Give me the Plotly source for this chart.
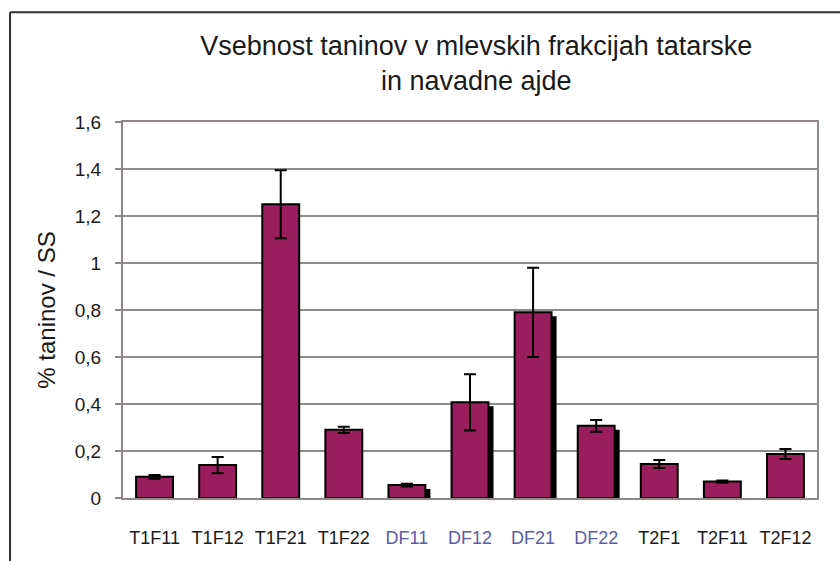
import plotly.graph_objects as go

# Tannin content per milling fraction (% of dry matter) with standard deviations
categories = ["T1F11", "T1F12", "T1F21", "T1F22", "DF11", "DF12",
              "DF21", "DF22", "T2F1", "T2F11", "T2F12"]
tannin = [0.09, 0.14, 1.25, 0.29, 0.055, 0.407, 0.79, 0.307, 0.145, 0.07, 0.187]
tannin_sd = [0.008, 0.035, 0.145, 0.013, 0.006, 0.12, 0.19, 0.025, 0.017, 0.005, 0.021]

# common buckwheat fractions (DF) get a drop shadow and blue labels
common_buckwheat = ["DF11", "DF12", "DF21", "DF22"]
shadow_vals = [v for c, v in zip(categories, tannin) if c in common_buckwheat]

y_ticks = [0, 0.2, 0.4, 0.6, 0.8, 1.0, 1.2, 1.4, 1.6]
y_ticktext = ["0", "0,2", "0,4", "0,6", "0,8", "1", "1,2", "1,4", "1,6"]

BAR = "#9a1d5d"
DF_LABEL = "#5a5ca6"
FONT = "Liberation Sans, Arial, sans-serif"

BAR_W = 0.585
fig = go.Figure()

# shadow behind the DF bars
fig.add_trace(go.Bar(
    x=common_buckwheat, y=shadow_vals, base=-0.017,
    width=BAR_W, offset=-BAR_W / 2 + 0.08,
    marker=dict(color="black", line=dict(width=0)),
    hoverinfo="skip", showlegend=False,
))

fig.add_trace(go.Bar(
    x=categories, y=tannin,
    width=BAR_W, offset=-BAR_W / 2,
    marker=dict(color=BAR, line=dict(color="black", width=2)),
    error_y=dict(type="data", array=tannin_sd, visible=True,
                 color="black", thickness=2, width=6),
    showlegend=False,
))

ticktext = [f"<span style='color:{DF_LABEL}'>{c}</span>" if c in common_buckwheat else c
            for c in categories]

# outer frame: left and top edges (right/bottom run past the page)
frame = dict(color="#333333", width=2)
FX, FY = -0.1628, 1.2918

fig.update_layout(
    width=840, height=561,
    margin=dict(l=123, r=23, t=122, b=63),
    paper_bgcolor="white", plot_bgcolor="white",
    barmode="overlay",
    font=dict(family=FONT, color="#1a1a1a"),
    title=dict(
        text="Vsebnost taninov v mlevskih frakcijah tatarske<br>in navadne ajde",
        font=dict(family=FONT, size=27, color="#1a1a1a"),
        x=0.567, xanchor="center", xref="container",
        y=0.902, yanchor="top", yref="container",
    ),
    xaxis=dict(
        type="category", categoryorder="array", categoryarray=categories,
        tickvals=categories, ticktext=ticktext,
        tickfont=dict(size=18, color="#1a1a1a"),
        ticks="", ticklabelstandoff=22,
        showline=True, linecolor="#8f8585", linewidth=2, mirror=True,
        showgrid=False, range=[-0.5, len(categories) - 0.5],
    ),
    yaxis=dict(
        range=[0, 1.6], tickvals=y_ticks, ticktext=y_ticktext,
        tickfont=dict(size=19, color="#1a1a1a"),
        ticks="outside", ticklen=6, tickcolor="#8f8585", tickwidth=2,
        ticklabelstandoff=10,
        showline=True, linecolor="#8f8585", linewidth=2, mirror=True,
        showgrid=True, gridcolor="#8c8c8c", gridwidth=1.5,
        zeroline=False,
        title=dict(text="% taninov / SS", font=dict(size=24, color="#1a1a1a"),
                   standoff=12),
    ),
    shapes=[
        dict(type="line", xref="paper", yref="paper",
             x0=FX, x1=1.2, y0=FY, y1=FY, line=frame),
        dict(type="line", xref="paper", yref="paper",
             x0=FX, x1=FX, y0=-0.3, y1=FY, line=frame),
    ],
)

fig.write_html("out.html")
